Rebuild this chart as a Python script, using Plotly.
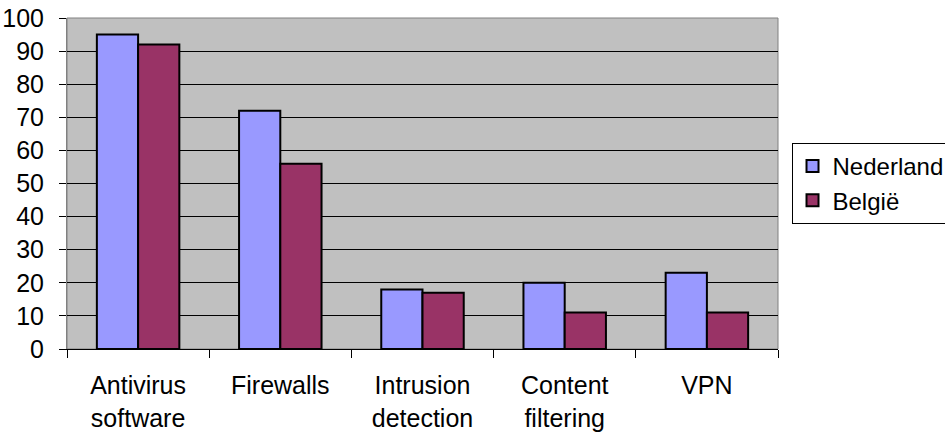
import plotly.graph_objects as go

categories = ["Antivirus<br>software", "Firewalls", "Intrusion<br>detection", "Content<br>filtering", "VPN"]
nederland = [95, 72, 18, 20, 23]
belgie = [92, 56, 17, 11, 11]
y_ticks = [0, 10, 20, 30, 40, 50, 60, 70, 80, 90, 100]

FONT = "Liberation Sans, Arial, sans-serif"
FS = 25

fig = go.Figure()
fig.add_trace(go.Bar(x=categories, y=nederland, name="Nederland",
                     marker=dict(color="#9999FF", line=dict(color="black", width=2))))
fig.add_trace(go.Bar(x=categories, y=belgie, name="België",
                     marker=dict(color="#993366", line=dict(color="black", width=2))))

fig.update_layout(
    width=945, height=432,
    margin=dict(l=67, r=167, t=18, b=83, autoexpand=False),
    paper_bgcolor="white", plot_bgcolor="#C0C0C0",
    font=dict(family=FONT, size=FS, color="black"),
    barmode="group", bargap=0.42, bargroupgap=0,
    showlegend=True,
    legend=dict(x=1.019, xanchor="left", y=0.5, yanchor="middle",
                bordercolor="black", borderwidth=1, bgcolor="white",
                font=dict(family=FONT, size=24, color="black"),
                tracegroupgap=0, itemwidth=30),
)
fig.update_xaxes(type="category", tickson="boundaries", ticks="outside", ticklen=8,
                 tickcolor="black", showline=True, linecolor="black", linewidth=1,
                 showgrid=False, tickfont=dict(size=FS), ticklabelstandoff=14,
                 mirror=False)
fig.update_yaxes(range=[0, 100], tickvals=y_ticks, ticks="outside", ticklen=7,
                 tickcolor="black", showline=True, linecolor="#808080", linewidth=1,
                 showgrid=True, gridcolor="black", gridwidth=1, zeroline=False,
                 tickfont=dict(size=FS), ticklabelstandoff=10)

# plot-area border (top and right) in gray
fig.add_shape(type="rect", xref="paper", yref="paper", x0=0, y0=0, x1=1, y1=1,
              line=dict(color="#808080", width=1), fillcolor="rgba(0,0,0,0)", layer="below")

fig.write_html("out.html", config={"displayModeBar": False},
               post_script="document.body.style.margin='0';")
